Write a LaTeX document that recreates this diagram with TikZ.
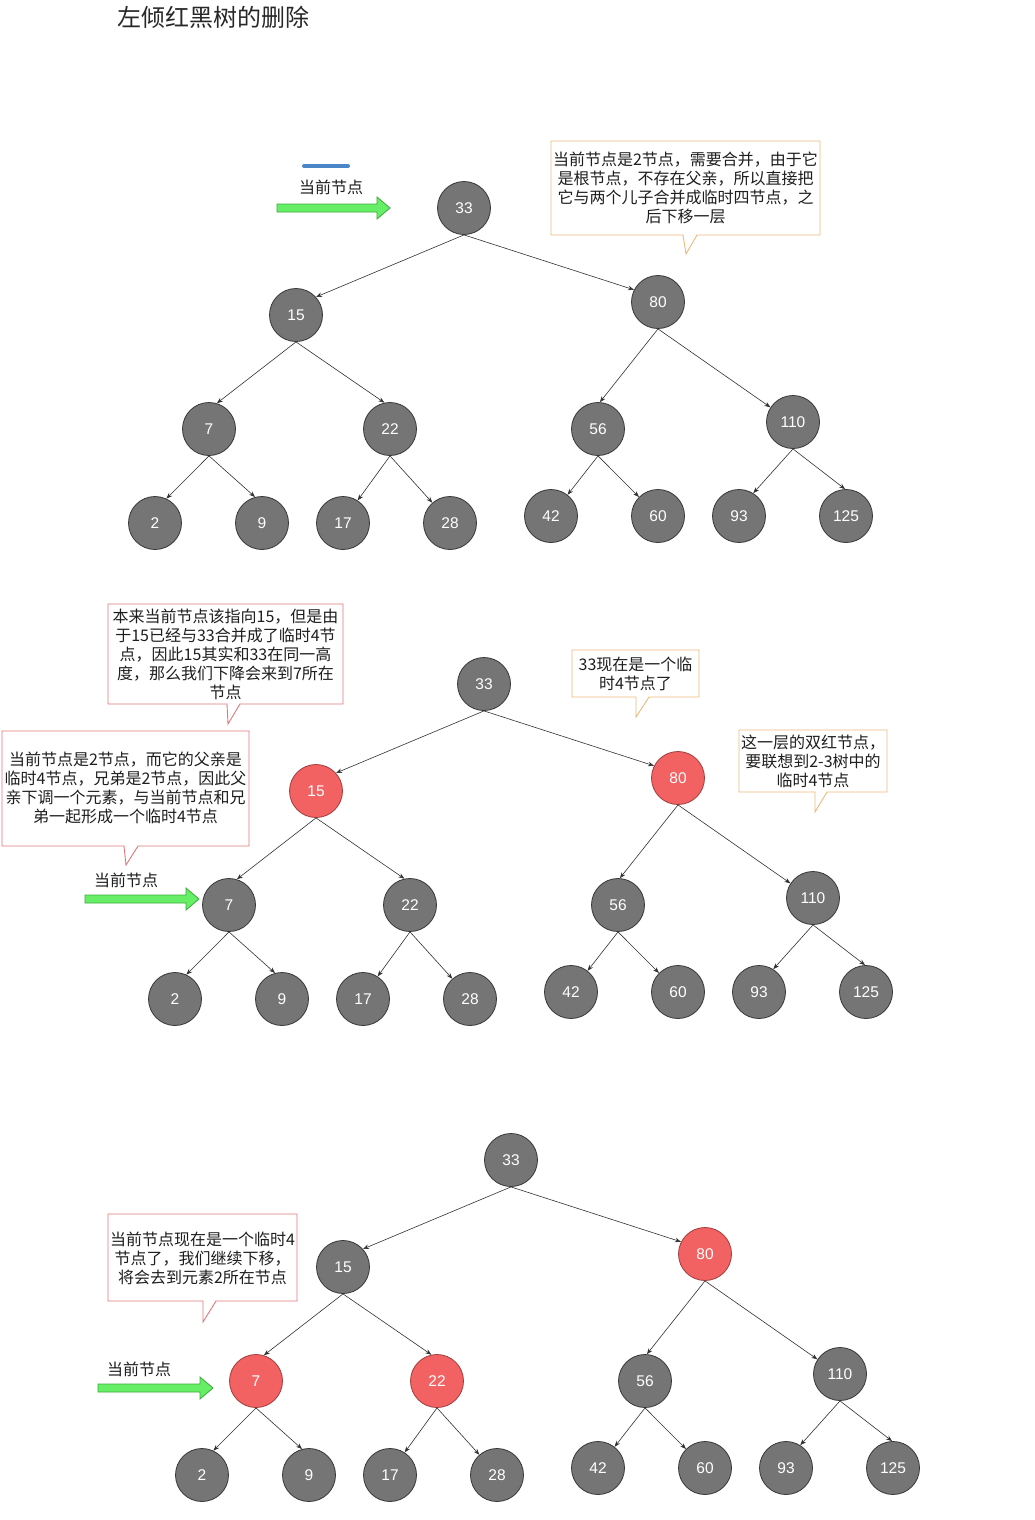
\documentclass[tikz,border=0pt]{standalone}
\usepackage{fontspec}
\setmainfont{Liberation Sans}
\newfontfamily\cjk{Noto Sans CJK SC}
\usetikzlibrary{arrows.meta}
\definecolor{nodegray}{RGB}{117,117,117}
\definecolor{nodeborder}{RGB}{55,55,55}
\definecolor{nodered}{RGB}{242,98,98}
\definecolor{redborder}{RGB}{160,60,60}
\definecolor{calred}{RGB}{226,120,120}
\definecolor{calorange}{RGB}{236,186,122}
\definecolor{arrowgreen}{RGB}{102,238,102}
\definecolor{arrowgreenb}{RGB}{60,170,60}
\definecolor{edgecol}{RGB}{50,50,50}
\definecolor{bluebar}{RGB}{74,134,200}
\definecolor{txt}{RGB}{30,30,30}
\tikzset{
  tnode/.style={circle, minimum size=53pt, inner sep=0pt, draw=nodeborder, line width=0.8pt, fill=nodegray, text=white, font=\fontsize{15.5}{15.5}\selectfont},
  rnode/.style={tnode, fill=nodered, draw=redborder},
  edge/.style={draw=edgecol, line width=0.6pt, -{Stealth[length=6pt,width=4.5pt]}},
  caltext/.style={align=center, font=\cjk\fontsize{16}{19}\selectfont, text=txt, inner sep=0pt},
  calout/.style={line width=0.9pt, fill=white, line join=miter},
  greenarrow/.style={fill=arrowgreen, draw=arrowgreenb, line width=0.8pt},
  lbl/.style={font=\cjk\fontsize{16}{16}\selectfont, text=txt, inner sep=0pt},
}
% #1 prefix, #2 dx, #3 dy, #4 style of 15, #5 style of 80, #6 style of 7, #7 style of 22
\newcommand\rbtree[7]{%
  \begin{scope}[shift={(#2,#3)}]
    \node[tnode] (#1n33) at (464,208) {33};
    \node[#4] (#1n15) at (296,315) {15};
    \node[#5] (#1n80) at (658,302) {80};
    \node[#6] (#1n7) at (209,429) {7};
    \node[#7] (#1n22) at (390,429) {22};
    \node[tnode] (#1n56) at (598,429) {56};
    \node[tnode] (#1n110) at (793,422) {110};
    \node[tnode] (#1n2) at (155,523) {2};
    \node[tnode] (#1n9) at (262,523) {9};
    \node[tnode] (#1n17) at (343,523) {17};
    \node[tnode] (#1n28) at (450,523) {28};
    \node[tnode] (#1n42) at (551,516) {42};
    \node[tnode] (#1n60) at (658,516) {60};
    \node[tnode] (#1n93) at (739,516) {93};
    \node[tnode] (#1n125) at (846,516) {125};
  \end{scope}
  \draw[edge] (#1n33.south) -- (#1n15.42);
  \draw[edge] (#1n33.south) -- (#1n80.153);
  \draw[edge] (#1n15.south) -- (#1n7.73);
  \draw[edge] (#1n15.south) -- (#1n22.102);
  \draw[edge] (#1n7.south) -- (#1n2.65);
  \draw[edge] (#1n7.south) -- (#1n9.105);
  \draw[edge] (#1n22.south) -- (#1n17.57);
  \draw[edge] (#1n22.south) -- (#1n28.131);
  \draw[edge] (#1n80.south) -- (#1n56.86);
  \draw[edge] (#1n80.south) -- (#1n110.147);
  \draw[edge] (#1n56.south) -- (#1n42.52);
  \draw[edge] (#1n56.south) -- (#1n60.135);
  \draw[edge] (#1n110.south) -- (#1n93.58);
  \draw[edge] (#1n110.south) -- (#1n125.92);
}
% green block arrow: #1 start x, #2 tip x, #3 y
\newcommand\garrow[3]{%
  \draw[greenarrow] (#1,{#3-4}) -- ({#2-13},{#3-4}) -- ({#2-13},{#3-11}) -- (#2,#3)
    -- ({#2-13},{#3+11}) -- ({#2-13},{#3+4}) -- (#1,{#3+4}) -- cycle;
}
\begin{document}
\begin{tikzpicture}[x=1pt,y=-1pt]
\useasboundingbox[fill=white] (0,0) rectangle (1035,1520);

% title
\node[font=\cjk\fontsize{24}{24}\selectfont, text={rgb,255:red,40;green,40;blue,40}, inner sep=0pt] (title) at (213,17) {左倾红黑树的删除};

% ---------- tree 1 ----------
\draw[bluebar, line width=4pt, line cap=round] (304,166) -- (348,166);
\node[lbl] (cur1) at (331,187) {当前节点};
\garrow{277}{390}{208}
\rbtree{a}{0}{0}{tnode}{tnode}{tnode}{tnode}
\draw[calout, draw=calorange] (551,141) -- (820,141) -- (820,235) -- (697,235) -- (686,254) -- (683,235) -- (551,235) -- cycle;
\node[caltext] (c1) at (685.5,188) {当前节点是2节点，需要合并，由于它\\是根节点，不存在父亲，所以直接把\\它与两个儿子合并成临时四节点，之\\后下移一层};

% ---------- tree 2 ----------
\rbtree{b}{20}{476}{rnode}{rnode}{tnode}{tnode}
\node[lbl] (cur2) at (126,880) {当前节点};
\garrow{85}{199}{899}
\draw[calout, draw=calred] (108,604) -- (343,604) -- (343,704) -- (240,704) -- (228,724) -- (227,704) -- (108,704) -- cycle;
\node[caltext] (c2) at (225.5,654) {本来当前节点该指向15，但是由\\于15已经与33合并成了临时4节\\点，因此15其实和33在同一高\\度，那么我们下降会来到7所在\\节点};
\draw[calout, draw=calred] (2,731) -- (249,731) -- (249,846) -- (138,846) -- (126,865) -- (124,846) -- (2,846) -- cycle;
\node[caltext] (c3) at (125.5,788) {当前节点是2节点，而它的父亲是\\临时4节点，兄弟是2节点，因此父\\亲下调一个元素，与当前节点和兄\\弟一起形成一个临时4节点};
\draw[calout, draw=calorange] (572,650) -- (699,650) -- (699,697) -- (649,697) -- (636,717) -- (636,697) -- (572,697) -- cycle;
\node[caltext] (c4) at (635.5,674) {33现在是一个临\\时4节点了};
\draw[calout, draw=calorange] (739,730) -- (887,730) -- (887,792) -- (827,792) -- (815,812) -- (815,792) -- (739,792) -- cycle;
\node[caltext] (c5) at (813,761) {这一层的双红节点，\\要联想到2-3树中的\\临时4节点};

% ---------- tree 3 ----------
\rbtree{c}{47}{952}{tnode}{rnode}{rnode}{rnode}
\node[lbl] (cur3) at (139,1369) {当前节点};
\garrow{98}{213}{1388}
\draw[calout, draw=calred] (108,1214) -- (297,1214) -- (297,1301) -- (216,1301) -- (203,1322) -- (203,1301) -- (108,1301) -- cycle;
\node[caltext] (c6) at (202.5,1258) {当前节点现在是一个临时4\\节点了，我们继续下移，\\将会去到元素2所在节点};
\end{tikzpicture}
\end{document}
